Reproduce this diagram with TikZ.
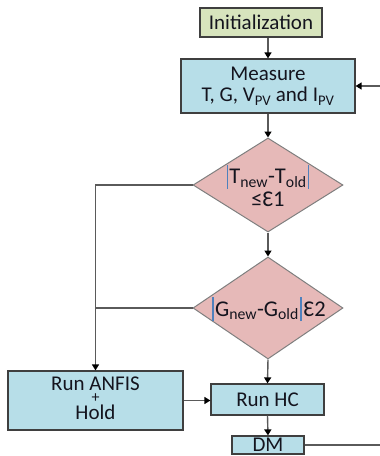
\documentclass[tikz,border=0pt]{standalone}
\usepackage{fontspec}
\setmainfont{Carlito}
\usetikzlibrary{shapes.geometric,arrows.meta}
\definecolor{boxblue}{HTML}{B7DEE8}
\definecolor{initgreen}{HTML}{D7E4BD}
\definecolor{diapink}{HTML}{E6B9B8}
\definecolor{linegray}{HTML}{5A5A5A}
\definecolor{boxedge}{HTML}{3F3F3F}
\definecolor{diaedge}{HTML}{7F7F7F}
\definecolor{barblue}{HTML}{4F81BD}
\definecolor{txt}{HTML}{14141E}
\newcommand{\vbar}{\textcolor{barblue}{\rule[-5pt]{1.8pt}{24pt}}}
\begin{document}
\begin{tikzpicture}[x=1pt,y=-1pt,
  every node/.style={font=\fontsize{21}{21.5}\selectfont, text=txt},
  procbox/.style={draw=boxedge, line width=1.2pt, fill=boxblue, inner sep=0pt, align=center},
  initbox/.style={draw=boxedge, line width=1.2pt, fill=initgreen, inner sep=0pt},
  decbox/.style={diamond, draw=diaedge, line width=1pt, fill=diapink, inner sep=0pt},
  dectext/.style={inner sep=0pt, align=center, font=\fontsize{22.5}{22}\selectfont},
  conn/.style={draw=linegray, line width=1.4pt},
  arr/.style={conn, -{Triangle[width=7pt,length=6pt,color=black]}}
]
\useasboundingbox (0,0) rectangle (380,456);

\node[initbox, minimum width=122pt, minimum height=29pt] (init) at (261,22.5) {Initialization};
\node[procbox, minimum width=174pt, minimum height=54pt] (meas) at (268,86) {Measure\\T, G, V\textsubscript{PV} and I\textsubscript{PV}};
\node[decbox, minimum width=150pt, minimum height=94pt] (d1) at (268,185) {};
\node[dectext] (d1t) at (268,186) {\vbar\kern1pt T\textsubscript{new}-T\textsubscript{old}\kern1pt\vbar\\[1pt]≤Ɛ1};
\node[decbox, minimum width=150pt, minimum height=102pt] (d2) at (268,308) {};
\node[dectext] (d2t) at (269,309) {\vbar\kern1pt G\textsubscript{new}-G\textsubscript{old}\kern1pt\vbar\kern2pt Ɛ2};
\node[procbox, minimum width=175pt, minimum height=59pt] (anfis) at (95.5,400.5) {};
\node[inner sep=0pt] (anfis1) at (95.5,384) {Run ANFIS};
\node[inner sep=0pt, font=\fontsize{16}{16}\selectfont] (anfis2) at (95.5,398.5) {+};
\node[inner sep=0pt] (anfis3) at (95.5,412.5) {Hold};
\node[procbox, minimum width=113pt, minimum height=31pt] (hc) at (267.5,399.5) {Run HC};
\node[procbox, minimum width=72pt, minimum height=18pt] (dm) at (268,445) {DM};

\coordinate (outR) at (380,445);
\coordinate (inR) at (380,86);

\draw[arr] (meas.north |- init.south) -- (meas.north);
\draw[arr] (meas.south) -- (d1.north);
\draw[arr] (d1.south) -- (d2.north);
\draw[arr] (d2.south) -- (hc.north);
\draw[arr] (hc.south) -- (dm.north);
\draw[arr] (anfis.east) -- (anfis.east -| hc.west);
\draw[arr] (d1.west) -| (anfis.north);
\draw[conn] (d2.west) -- (d2.west -| anfis.north);
\draw[conn] (dm.east) -- (outR);
\draw[arr] (inR) -- (meas.east);
\end{tikzpicture}
\end{document}
